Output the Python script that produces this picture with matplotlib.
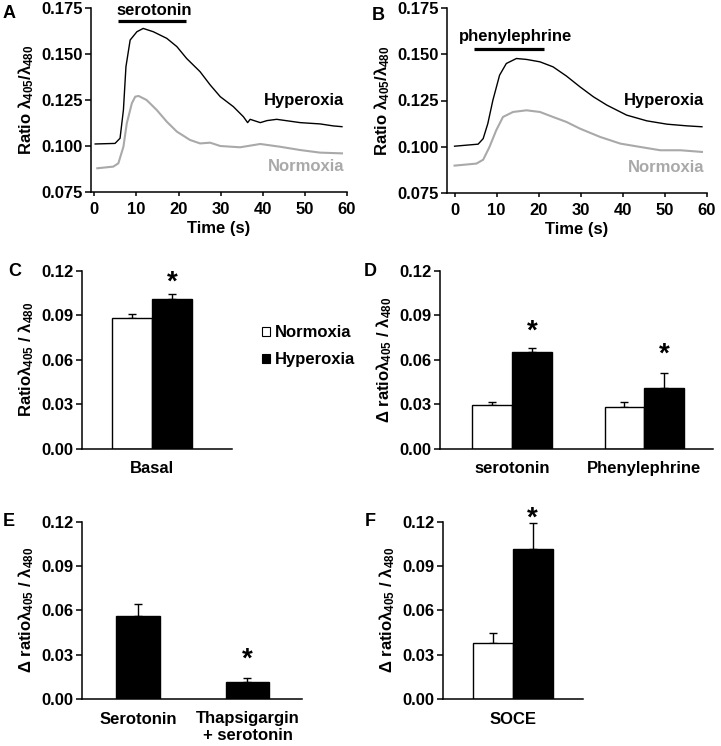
import matplotlib
matplotlib.use('Agg')
import matplotlib.pyplot as plt
from matplotlib.patches import Patch

plt.rcParams['font.family'] = ['Liberation Sans', 'DejaVu Sans']
plt.rcParams['font.weight'] = 'bold'
plt.rcParams['axes.labelweight'] = 'bold'
plt.rcParams['mathtext.fontset'] = 'custom'
plt.rcParams['mathtext.rm'] = 'Liberation Sans:bold'
plt.rcParams['mathtext.bf'] = 'Liberation Sans:bold'
plt.rcParams['mathtext.it'] = 'Liberation Sans:bold'
plt.rcParams['mathtext.default'] = 'rm'

# ---------------- data ----------------
# Panel A (serotonin traces)
a_hyp_t = [0.2, 4.9, 6.1, 6.9, 7.5, 8.5, 10.1, 11.6, 14.0, 17.2, 19.6, 21.9, 25.1, 27.5,
           29.9, 33.0, 35.4, 36.4, 37.0, 39.4, 41.0, 43.3, 48.9, 53.6, 56.8, 58.8]
a_hyp_y = [0.1011, 0.1014, 0.1042, 0.1196, 0.1431, 0.1576, 0.1621, 0.1639, 0.1621, 0.1585,
           0.1540, 0.1476, 0.1404, 0.1332, 0.1268, 0.1214, 0.1159, 0.1127, 0.1145, 0.1127,
           0.1138, 0.1145, 0.1127, 0.1120, 0.1109, 0.1105]
a_nor_t = [0.7, 4.5, 5.7, 6.9, 7.7, 8.9, 9.7, 10.5, 12.4, 14.8, 17.2, 19.6, 22.7, 25.1,
           27.5, 29.9, 34.6, 39.4, 44.1, 48.9, 53.6, 58.8]
a_nor_y = [0.0879, 0.0888, 0.0906, 0.0996, 0.1123, 0.1232, 0.1268, 0.1272, 0.1250, 0.1196,
           0.1132, 0.1078, 0.1033, 0.1014, 0.1018, 0.1000, 0.0993, 0.1011, 0.0996, 0.0978,
           0.0964, 0.0960]
# Panel B (phenylephrine traces)
b_hyp_t = [0.0, 5.6, 6.8, 7.9, 9.1, 10.7, 12.3, 14.7, 17.1, 20.3, 23.4, 26.6, 29.8, 33.0,
           36.2, 40.9, 45.7, 50.5, 55.2, 58.8]
b_hyp_y = [0.1003, 0.1014, 0.1044, 0.1125, 0.1251, 0.1387, 0.1450, 0.1477, 0.1472, 0.1459,
           0.1432, 0.1382, 0.1324, 0.1270, 0.1225, 0.1171, 0.1140, 0.1122, 0.1113, 0.1108]
b_nor_t = [0.0, 5.2, 6.8, 8.3, 9.9, 11.5, 13.9, 17.1, 20.3, 23.4, 26.6, 29.8, 34.6, 39.4,
           44.1, 48.9, 53.7, 58.8]
b_nor_y = [0.0898, 0.0909, 0.0930, 0.0999, 0.1089, 0.1161, 0.1188, 0.1197, 0.1188, 0.1161,
           0.1134, 0.1098, 0.1053, 0.1017, 0.0999, 0.0981, 0.0981, 0.0972]
a_drug = "serotonin"
a_drug_span = [5.5, 21.8]
b_drug = "phenylephrine"
b_drug_span = [4.6, 21.2]

trace_yticks = [0.075, 0.100, 0.125, 0.150, 0.175]
trace_xticks = [0, 10, 20, 30, 40, 50, 60]

# Panel C
c_cats = ["Basal"]
c_nor = [0.0883]; c_nor_err = [0.0025]
c_hyp = [0.1011]; c_hyp_err = [0.0029]
# Panel D
d_cats = ["serotonin", "Phenylephrine"]
d_nor = [0.0292, 0.0283]; d_nor_err = [0.0025, 0.0032]
d_hyp = [0.0649, 0.0411]; d_hyp_err = [0.0030, 0.0099]
# Panel E
e_cats = ["Serotonin", "Thapsigargin\n+ serotonin"]
e_vals = [0.0559, 0.0117]; e_err = [0.0086, 0.0027]
# Panel F
f_cats = ["SOCE"]
f_nor = [0.0376]; f_nor_err = [0.0070]
f_hyp = [0.1013]; f_hyp_err = [0.0176]

bar_yticks = [0.00, 0.03, 0.06, 0.09, 0.12]

GRAY = '#a9a9a9'
FS_TICK = 12
FS_LAB = 12

W, H = 721, 746
fig = plt.figure(figsize=(W / 100, H / 100), dpi=100)


def add_ax(l, t, r, b):
    return fig.add_axes([l / W, 1 - b / H, (r - l) / W, (b - t) / H])


def style(ax):
    for s in ['top', 'right']:
        ax.spines[s].set_visible(False)
    for s in ['left', 'bottom']:
        ax.spines[s].set_linewidth(1.1)
    ax.tick_params(axis='y', direction='out', length=4, width=1.1, pad=2, labelsize=FS_TICK)
    ax.tick_params(axis='x', labelsize=FS_TICK)


ylab_trace = r"Ratio λ$_{405}$/λ$_{480}$"


def trace_panel(ax, ht, hy, nt, ny, drug, span, drug_y, txt_y, xmin):
    style(ax)
    ax.plot(nt, ny, color=GRAY, lw=1.5)
    ax.plot(ht, hy, color='black', lw=1.0)
    ax.set_xlim(xmin, 60)
    ax.set_ylim(0.075, 0.175)
    ax.set_yticks(trace_yticks)
    ax.set_yticklabels([f"{v:.3f}" for v in trace_yticks])
    ax.set_xticks(trace_xticks)
    ax.tick_params(axis='x', direction='out', length=3, width=1.1, pad=4)
    ax.set_xlabel("Time (s)", fontsize=FS_LAB, labelpad=3)
    ax.set_ylabel(ylab_trace, fontsize=FS_LAB, labelpad=4)
    ax.plot(span, [drug_y, drug_y], color='black', lw=2.3, solid_capstyle='butt', clip_on=False)
    ax.text(sum(span) / 2 + (1.5 if drug == 'phenylephrine' else 0.5), txt_y, drug,
            ha='center', va='center', fontsize=FS_LAB, clip_on=False)
    ax.text(59.3, 0.125, "Hyperoxia", ha='right', va='center', fontsize=FS_LAB, color='black')
    ax.text(59.3, 0.089, "Normoxia", ha='right', va='center', fontsize=FS_LAB, color=GRAY)


axA = add_ax(91, 8, 347, 192)
trace_panel(axA, a_hyp_t, a_hyp_y, a_nor_t, a_nor_y, a_drug, a_drug_span, 0.168, 0.1738, -0.8)
axB = add_ax(447, 8, 707, 193)
trace_panel(axB, b_hyp_t, b_hyp_y, b_nor_t, b_nor_y, b_drug, b_drug_span, 0.1526, 0.1594, -1.8)

ylab_bar = r"Ratioλ$_{405}$ / λ$_{480}$"
ylab_d = r"Δ ratioλ$_{405}$ / λ$_{480}$"


def bar_style(ax, ylabel):
    style(ax)
    ax.set_ylim(0, 0.12)
    ax.set_yticks(bar_yticks)
    ax.set_yticklabels([f"{v:.2f}" for v in bar_yticks])
    ax.tick_params(axis='x', length=0, pad=9, labelsize=FS_LAB)
    ax.set_ylabel(ylabel, fontsize=FS_LAB, labelpad=4)


def ebar(ax, x, v, e):
    ax.errorbar(x, v, yerr=[[0] * len(v), e], fmt='none', ecolor='black',
                elinewidth=1.0, capsize=2.6, capthick=1.0, zorder=1)


def star(ax, x, y, dy_px):
    ax.annotate("*", (x, y), xytext=(0, dy_px * 0.72), textcoords='offset points',
                ha='center', va='center', fontsize=20, annotation_clip=False)


def grouped(ax, cats, nor, nerr, hyp, herr, w):
    xs = list(range(len(cats)))
    xn = [x - w / 2 for x in xs]
    xh = [x + w / 2 for x in xs]
    ax.bar(xn, nor, width=w, color='white', edgecolor='black', lw=1.0, zorder=2)
    ax.bar(xh, hyp, width=w, color='black', edgecolor='black', lw=1.0, zorder=2)
    ebar(ax, xn, nor, nerr)
    ebar(ax, xh, hyp, herr)
    ax.set_xticks(xs)
    ax.set_xticklabels(cats)
    return xh


axC = add_ax(82, 270.7, 232, 448.7)
bar_style(axC, ylab_bar)
xh = grouped(axC, c_cats, c_nor, c_nor_err, c_hyp, c_hyp_err, 0.5)
axC.set_xlim(-0.875, 1.0)
star(axC, xh[0], c_hyp[0] + c_hyp_err[0], 12)

axD = add_ax(440, 270.7, 713, 448.7)
bar_style(axD, ylab_d)
xh = grouped(axD, d_cats, d_nor, d_nor_err, d_hyp, d_hyp_err, 0.3)
axD.set_xlim(-0.545, 1.52)
star(axD, xh[0], d_hyp[0] + d_hyp_err[0], 16)
star(axD, xh[1], d_hyp[1] + d_hyp_err[1], 18)

axE = add_ax(82, 521.7, 302, 699)
bar_style(axE, ylab_d)
xe = list(range(len(e_cats)))
axE.bar(xe, e_vals, width=0.4, color='black', edgecolor='black', lw=1.0, zorder=2)
ebar(axE, xe, e_vals, e_err)
axE.set_xticks(xe)
axE.set_xticklabels(e_cats, linespacing=1.1)
axE.set_xlim(-0.511, 1.498)
star(axE, xe[1], e_vals[1] + e_err[1], 18)

axF = add_ax(443, 521.7, 583, 699)
bar_style(axF, ylab_d)
xh = grouped(axF, f_cats, f_nor, f_nor_err, f_hyp, f_hyp_err, 0.5)
axF.set_xlim(-0.886, 0.886)
star(axF, xh[0], f_hyp[0] + f_hyp_err[0], 5)

# legend (panel C)
handles = [Patch(facecolor='white', edgecolor='black', lw=0.8),
           Patch(facecolor='black', edgecolor='black', lw=0.8)]
fig.legend(handles, ["Normoxia", "Hyperoxia"], loc='upper left',
           bbox_to_anchor=(262 / W, 1 - 325 / H), frameon=False, fontsize=FS_LAB,
           handlelength=0.45, handleheight=0.45, handletextpad=0.35, labelspacing=0.75,
           borderaxespad=0, borderpad=0)

# panel letters
for letter, (x, y) in zip("ABCDEF", [(9, 14), (378, 15), (15, 272), (370, 272), (9, 522), (370, 522)]):
    fig.text(x / W, 1 - y / H, letter, ha='center', va='center', fontsize=13, fontweight='bold')

fig.savefig("out.png", dpi=100)
